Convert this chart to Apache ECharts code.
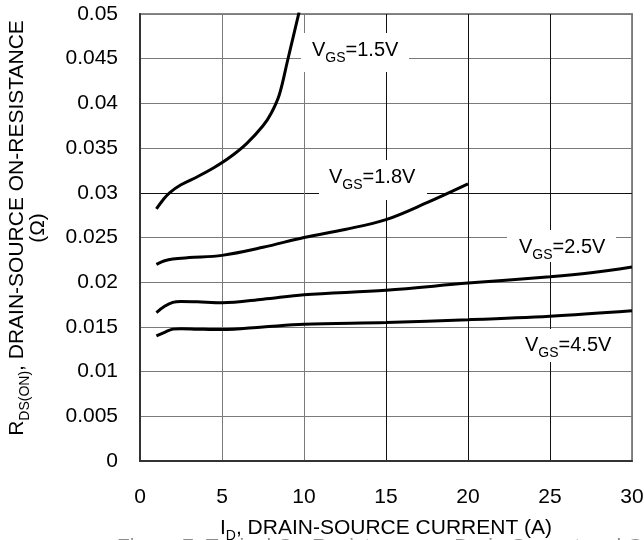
<!DOCTYPE html>
<html>
<head>
<meta charset="utf-8">
<script src="https://cdn.jsdelivr.net/npm/echarts@6/dist/echarts.min.js"></script>
<style>
html,body{margin:0;padding:0;background:#fff;overflow:hidden;}
#chart{width:644px;height:540px;}
</style>
</head>
<body>
<div id="chart"></div>
<script>
const xTickLabels = ['0','5','10','15','20','25','30'];
const yTickLabels = ['0','0.005','0.01','0.015','0.02','0.025','0.03','0.035','0.04','0.045','0.05'];

const id_15 = [1, 1.4, 1.8, 2.5, 3.5, 4.5, 5.5, 6.5, 7.5, 8, 8.5, 9, 9.35, 9.7];
const r_15  = [0.0282, 0.0292, 0.0300, 0.0309, 0.0318, 0.0328, 0.0340, 0.0355, 0.0375, 0.0389, 0.0410, 0.0448, 0.0475, 0.0502];
const id_18 = [1, 1.5, 2, 3, 5, 7.5, 10, 12.5, 15, 17.5, 20];
const r_18  = [0.0220, 0.0224, 0.0226, 0.02275, 0.0230, 0.0239, 0.0250, 0.0259, 0.0270, 0.0289, 0.0310];
const id_25 = [1, 1.5, 2, 2.5, 3.5, 5, 7.5, 10, 15, 20, 25, 27.5, 30];
const r_25  = [0.0166, 0.0173, 0.01775, 0.01785, 0.0178, 0.0177, 0.0181, 0.0186, 0.0191, 0.0199, 0.0206, 0.02105, 0.0217];
const id_45 = [1, 1.5, 2, 2.5, 3.5, 5, 7.5, 10, 15, 20, 25, 30];
const r_45  = [0.0140, 0.0144, 0.01475, 0.0148, 0.01475, 0.0147, 0.0150, 0.0153, 0.0155, 0.0158, 0.0162, 0.0168];
const seriesNames = ['1.5V', '1.8V', '2.5V', '4.5V'];

function pairs(xs, ys){ return xs.map((x,i)=>[x, ys[i]]); }
const FONT = "'Liberation Sans', Arial, sans-serif";
const chart = echarts.init(document.getElementById('chart'), null, {renderer:'canvas', width:644, height:540});
const gray = '#7a7a7a';
function labelRich(){
  return {
    m: {fontFamily: FONT, fontSize: 20, lineHeight: 24, color:'#000'},
    s: {fontFamily: FONT, fontSize: 14, lineHeight: 16, padding:[16,0,0,0], color:'#000'}
  };
}
function vgsLabel(name, x, y){
  return {type:'text', z: 3, x: x, y: y, style:{
    text: '{m|V}{s|GS}{m|=' + name + '}', rich: labelRich(), align:'left', verticalAlign:'middle'}};
}
function box(x1,y1,x2,y2){
  return {type:'rect', z: 1, shape:{x:x1,y:y1,width:x2-x1,height:y2-y1}, style:{fill:'#fff'}};
}
const lineSeries = (name, data) => ({
  name, type:'line', data, smooth: 0.35, symbol:'none', clip: true,
  lineStyle:{color:'#000', width:3}, z: 2, animation:false
});

chart.setOption({
  animation: false,
  backgroundColor: '#fff',
  grid: {left: 140, top: 14, width: 492, height: 447, containLabel: false, outerBoundsMode: 'none',
         show: true, borderColor: '#888', borderWidth: 2},
  xAxis: {
    type:'value', min:0, max:30, interval:5,
    axisLine:{show:true, onZero:false, lineStyle:{color:'#333', width:2}},
    axisTick:{show:false},
    splitLine:{show:true, lineStyle:{color:[gray, gray, gray, '#111', '#111', '#111', gray], width:1}},
    axisLabel:{fontFamily: FONT, fontSize:21, color:'#000', margin:26, formatter: v => xTickLabels[Math.round(v/5)]},
    name: '{m|I}{s|D}{m|, DRAIN-SOURCE CURRENT (A)}',
    nameLocation:'middle', nameGap: 42,
    nameTextStyle:{rich:{
      m:{fontFamily: FONT, fontSize:21, lineHeight:24, color:'#000'},
      s:{fontFamily: FONT, fontSize:14, lineHeight:16, padding:[16,0,0,0], color:'#000'}
    }}
  },
  yAxis: {
    type:'value', min:0, max:0.05, interval:0.005,
    axisLine:{show:true, onZero:false, lineStyle:{color:'#333', width:2}},
    axisTick:{show:false},
    splitLine:{show:true, lineStyle:{color:[gray, gray, gray, gray, gray, gray, '#111', gray, gray, gray, gray], width:1}},
    axisLabel:{fontFamily: FONT, fontSize:21, color:'#000', margin:22, formatter: v => yTickLabels[Math.round(v/0.005)]}
  },
  graphic: [
    box(301, 33, 409, 72), box(319, 160, 427, 200), box(507, 230, 616, 262), box(515, 329, 620, 362),
    vgsLabel(seriesNames[0], 312, 50), vgsLabel(seriesNames[1], 329, 177),
    vgsLabel(seriesNames[2], 519, 247), vgsLabel(seriesNames[3], 525, 345),
    {type:'text', z: 3, x: 17, y: 228, rotation: Math.PI/2, style:{
      text:'{m|R}{s|DS(ON)}{m|, DRAIN-SOURCE ON-RESISTANCE}',
      rich:{
        m:{fontFamily: FONT, fontSize:21, lineHeight:24, color:'#000'},
        s:{fontFamily: FONT, fontSize:14, lineHeight:16, padding:[16,0,0,0], color:'#000'}
      },
      align:'center', verticalAlign:'middle'}},
    {type:'text', z: 3, x: 38, y: 228, rotation: Math.PI/2, style:{
      text:'(Ω)', fontFamily: FONT, fontSize:21, fill:'#000', align:'center', verticalAlign:'middle'}},
    {type:'text', z: 3, x: 117, y: 537, style:{
      text:'Figure 7. Typical On-Resistance vs. Drain Current and Gate Voltage',
      fontFamily: FONT, fontSize:21, fill:'#8c8c8c', align:'left', verticalAlign:'top'}}
  ],
  series: [
    lineSeries(seriesNames[0], pairs(id_15, r_15)), lineSeries(seriesNames[1], pairs(id_18, r_18)),
    lineSeries(seriesNames[2], pairs(id_25, r_25)), lineSeries(seriesNames[3], pairs(id_45, r_45))
  ]
});
</script>
</body>
</html>
